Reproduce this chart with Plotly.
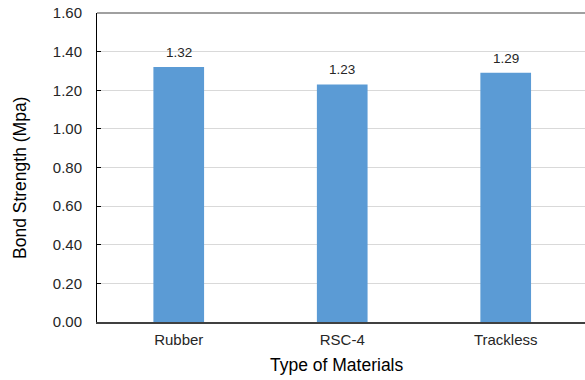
import plotly.graph_objects as go

categories = ["Rubber", "RSC-4", "Trackless"]
values = [1.32, 1.23, 1.29]
labels = ["1.32", "1.23", "1.29"]
y_ticks = [0, 0.2, 0.4, 0.6, 0.8, 1.0, 1.2, 1.4, 1.6]
y_tick_text = ["0.00", "0.20", "0.40", "0.60", "0.80", "1.00", "1.20", "1.40", "1.60"]

FONT = "Liberation Sans, Arial, sans-serif"

fig = go.Figure(go.Bar(
    x=categories, y=values,
    marker=dict(color="#5B9BD5", line=dict(width=0)),
    hoverinfo="skip",
))

for c, v, t in zip(categories, values, labels):
    fig.add_annotation(x=c, y=v, text=t, showarrow=False, yanchor="bottom", yshift=5,
                       font=dict(size=13.5, color="#262626", family=FONT))

# axis titles as annotations for precise placement
fig.add_annotation(text="Type of Materials", xref="paper", yref="paper", x=0.491, y=0,
                   xanchor="center", yanchor="middle", yshift=-43, showarrow=False,
                   font=dict(size=17.5, color="#000000", family=FONT))
fig.add_annotation(text="Bond Strength (Mpa)", xref="paper", yref="paper", x=0, y=0.466,
                   xanchor="center", yanchor="middle", xshift=-77, textangle=-90, showarrow=False,
                   font=dict(size=17.5, color="#000000", family=FONT))

fig.update_layout(
    width=585, height=380,
    margin=dict(l=97, r=0, t=13, b=58),
    paper_bgcolor="white", plot_bgcolor="white",
    bargap=0.69,
    showlegend=False,
    font=dict(family=FONT, color="#262626"),
    xaxis=dict(
        range=[-0.5, 2.485], automargin=False,
        showline=True, linecolor="#404040", linewidth=1.5,
        ticks="", tickfont=dict(size=15, color="#262626"),
        ticklabelstandoff=3,
        showgrid=False,
    ),
    yaxis=dict(
        range=[0, 1.6], automargin=False,
        tickvals=y_ticks, ticktext=y_tick_text,
        showline=True, linecolor="#000000", linewidth=1,
        ticks="inside", ticklen=4, tickcolor="#000000",
        tickfont=dict(size=15, color="#262626"),
        ticklabelstandoff=11,
        showgrid=True, gridcolor="#D9D9D9", gridwidth=1,
        zeroline=False,
    ),
    shapes=[dict(type="line", xref="paper", yref="paper", x0=0, x1=1, y0=1, y1=1,
                 line=dict(color="#808080", width=1.5))],
)

fig.write_html("out.html", config={"displayModeBar": False},
               post_script="document.body.style.margin='0px';")
